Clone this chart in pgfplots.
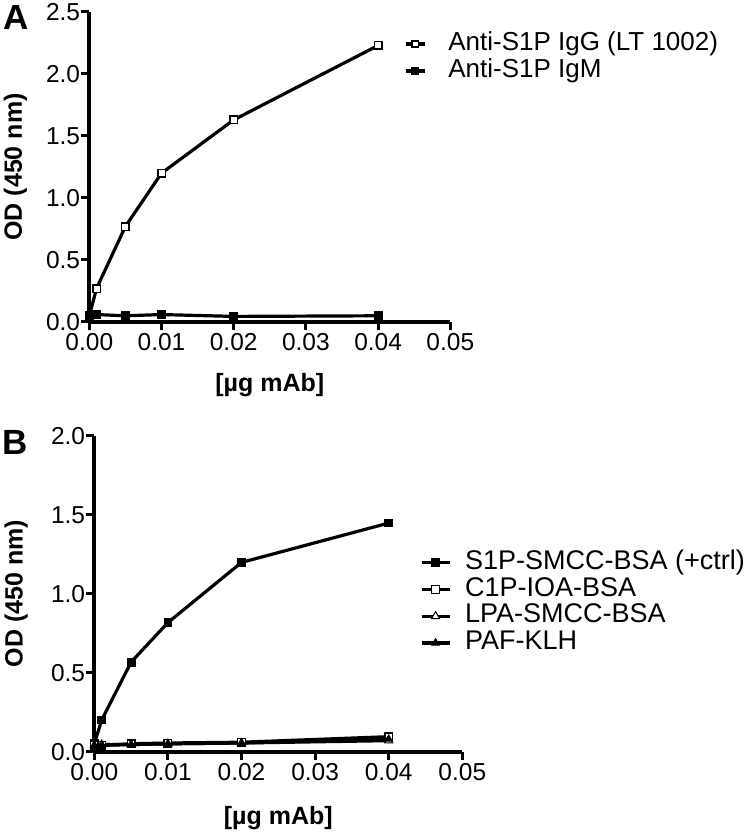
\documentclass[border=0pt]{standalone}
\usepackage{fontspec}
\setmainfont{Liberation Sans}
\usepackage{pgfplots}
\pgfplotsset{compat=1.18}
\pgfplotsset{
  gp/.style={
    scale only axis,
    axis lines*=left,
    axis line style={line width=4.2pt,-},
    xtick pos=bottom, ytick pos=left,
    tick align=outside, major tick length=8pt,
    xtick style={draw=black,line width=3pt},
    ytick style={draw=black,line width=3pt},
    minor tick num=0,
    xmin=0, xmax=0.05, ymin=0,
    xtick={0,0.01,0.02,0.03,0.04,0.05},
    scaled x ticks=false, scaled y ticks=false,
    clip=false,
    /pgf/number format/assume math mode=true,
    tick label style={font=\fontsize{24.5}{28}\selectfont},
    xticklabel={\pgfmathprintnumber[fixed,fixed zerofill,precision=2]{\tick}},
    yticklabel={\pgfmathprintnumber[fixed,fixed zerofill,precision=1]{\tick}},
    x tick label style={inner sep=0pt, anchor=north, yshift=-3.5pt},
    y tick label style={inner sep=0pt, anchor=east, xshift=-1pt},
    label style={font=\bfseries\fontsize{25}{30}\selectfont},
    xlabel={[µg mAb]},
    ylabel={OD (450 nm)},
    legend cell align=left,
  },
  ser/.style={black, line width=3.2pt, mark size=3.8pt},
}
\begin{document}
\begin{tikzpicture}
\useasboundingbox (0,0) rectangle (746pt,834pt);
% Panel A
\begin{axis}[gp,
  at={(89.3pt,512pt)}, anchor=south west,
  width=361pt, height=310pt,
  ymax=2.5, ytick={0,0.5,1,1.5,2,2.5},
  xlabel style={at={(axis description cs:0.5,-0.203)}, anchor=center},
  ylabel style={at={(axis description cs:-0.205,0.5)}, anchor=center},
  legend style={at={(axis description cs:0.872,0.940)}, anchor=north west,
    draw=none, fill=none, inner sep=0pt, outer sep=0pt,
    font=\fontsize{26}{31}\selectfont, column sep=21pt,
    nodes={text height=19pt, text depth=6pt, inner sep=1pt}},
  legend image code/.code={\draw[mark repeat=2,mark phase=2,#1,mark size=3.2pt] plot coordinates {(0pt,0pt) (9.5pt,0pt) (19pt,0pt)};},
]
\addplot[ser, mark=square*, mark options={solid, fill=white, line width=1.6pt}] coordinates {
 (0,0.05) (0.001,0.27) (0.005,0.77) (0.01,1.20) (0.02,1.63) (0.04,2.23)};
\addlegendentry{Anti-S1P IgG (LT 1002)}
\addplot[ser, mark=square*, mark options={solid, fill=black, line width=1.2pt}] coordinates {
 (0,0.05) (0.001,0.06) (0.005,0.05) (0.01,0.06) (0.02,0.045) (0.04,0.05)};
\addlegendentry{Anti-S1P IgM}
\node[font=\bfseries\fontsize{35}{40}\selectfont] at (axis description cs:-0.203,0.982) {A};
\end{axis}
% Panel B
\begin{axis}[gp,
  at={(94.3pt,82.3pt)}, anchor=south west,
  width=368pt, height=316pt,
  ymax=2, ytick={0,0.5,1,1.5,2},
  xlabel style={at={(axis description cs:0.5,-0.209)}, anchor=center},
  ylabel style={at={(axis description cs:-0.212,0.5)}, anchor=center},
  legend style={at={(axis description cs:0.885,0.640)}, anchor=north west,
    draw=none, fill=none, inner sep=0pt, outer sep=0pt,
    font=\fontsize{27}{32}\selectfont, column sep=13pt,
    nodes={text height=19pt, text depth=6pt, inner sep=0.85pt}},
  legend image code/.code={\draw[mark repeat=2,mark phase=2,#1] plot coordinates {(0pt,0pt) (14pt,0pt) (28pt,0pt)};},
]
\addplot[ser, mark=square*, mark options={solid, fill=black, line width=1.2pt}] coordinates {
 (0,0.05) (0.001,0.20) (0.005,0.567) (0.01,0.817) (0.02,1.198) (0.04,1.447)};
\addlegendentry{S1P-SMCC-BSA (+ctrl)}
\addplot[ser, mark=square*, mark options={solid, fill=white, line width=1.4pt}] coordinates {
 (0,0.04) (0.001,0.04) (0.005,0.05) (0.01,0.055) (0.02,0.06) (0.04,0.095)};
\addlegendentry{C1P-IOA-BSA}
\addplot[ser, mark=triangle*, mark size=4.6pt, mark options={solid, fill=white, line width=1pt}] coordinates {
 (0,0.04) (0.001,0.045) (0.005,0.045) (0.01,0.05) (0.02,0.055) (0.04,0.07)};
\addlegendentry{LPA-SMCC-BSA}
\addplot[ser, mark=triangle*, mark size=4.2pt, mark options={solid, fill=black, line width=1pt}] coordinates {
 (0,0.035) (0.001,0.04) (0.005,0.045) (0.01,0.05) (0.02,0.055) (0.04,0.08)};
\addlegendentry{PAF-KLH}
\node[font=\bfseries\fontsize{35}{40}\selectfont] at (axis description cs:-0.215,0.978) {B};
\end{axis}
\end{tikzpicture}
\end{document}
